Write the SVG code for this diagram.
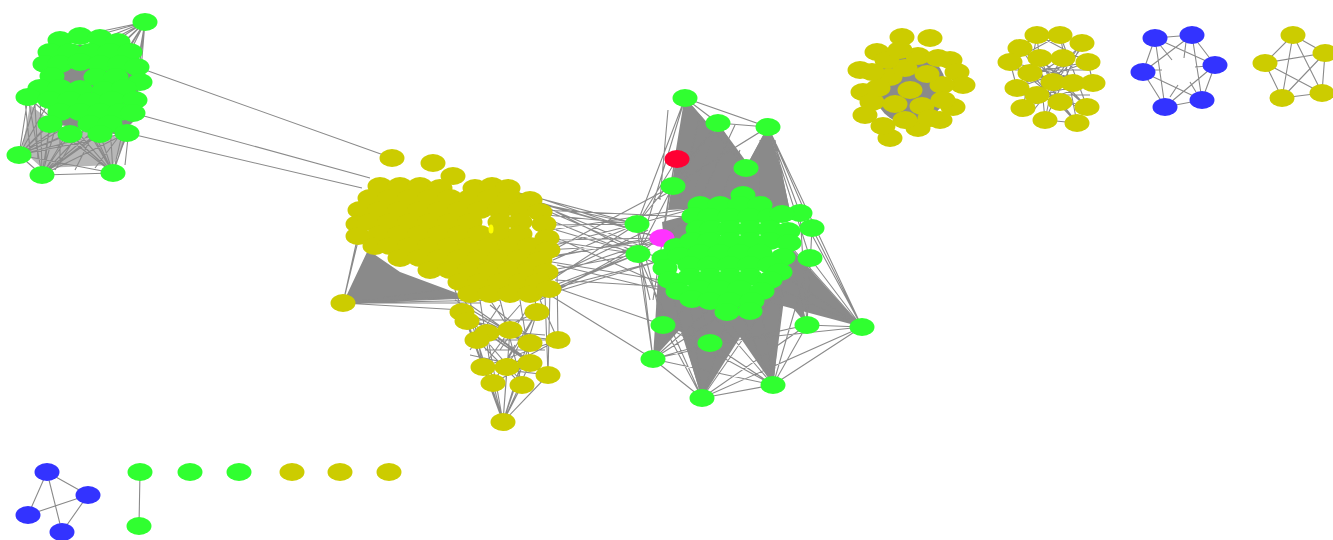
<svg xmlns="http://www.w3.org/2000/svg" width="1333" height="540" viewBox="0 0 1333 540">
<style>
.e{stroke:#8a8a8a;stroke-width:1.1;fill:none}
.m{fill:#8a8a8a}
.ml{fill:#999;opacity:.7}
.gr{fill:#30ff30}
.yl{fill:#cccc00}
.bl{fill:#3333ff}
.rd{fill:#ff0033}
.mg{fill:#ff33ff}
</style>
<defs>
<ellipse id="n" rx="12.5" ry="9"/>
</defs>
<rect width="1333" height="540" fill="#fff"/>

<!-- connectors -->
<g id="edges">
<!-- left green community -->
<polygon class="ml" points="30,105 60,128 127,138 113,165 42,168 22,150"/>
<polygon class="m" points="50,45 135,45 140,115 120,135 60,125 38,95"/>
<path class="e" d="M19 155L28 97M19 155L40 88M19 155L50 124M19 155L70 134M19 155L100 134M19 155L127 133M19 155L42 175M19 155L113 173M19 155L60 112M19 155L80 112M19 155L110 100M19 155L90 124M19 155L50 100
M42 175L50 124M42 175L70 134M42 175L100 134M42 175L127 133M42 175L113 173M42 175L28 97M42 175L60 112M42 175L90 124M42 175L110 124M42 175L80 112M42 175L130 100M42 175L40 88
M113 173L50 124M113 173L70 134M113 173L100 134M113 173L127 133M113 173L133 113M113 173L28 97M113 173L60 112M113 173L90 124M113 173L110 124M113 173L130 100M113 173L80 112M113 173L40 88M113 173L50 100M113 173L70 100
M145 22L60 40M145 22L80 40M145 22L100 40M145 22L137 67M145 22L140 82M145 22L120 64M145 22L130 52M145 22L110 76M145 22L90 76M145 22L80 64M145 22L90 52M145 22L135 100M145 22L133 113M145 22L70 52M145 22L100 64
M28 97L19 155M25 100L30 150M35 105L38 160M50 120L45 165M60 120L60 165M80 130L55 170M95 130L75 170M120 135L95 168M130 120L125 165M28 97L127 133M40 82L133 113"/>
<path class="e" d="M137 67L392 158M133 113L370 178M127 133L362 188"/>

<!-- central yellow community -->
<polygon class="m" points="343,303 368,250 400,272 470,298"/>
<path class="e" d="M343 303L358 235M343 303L368 200M343 303L462 310M343 303L500 300M343 303L520 296M343 303L545 292M343 303L480 303M343 303L440 290
M503 422L483 367M503 422L493 383M503 422L507 367M503 422L522 385M503 422L530 363M503 422L548 375M503 422L477 340M503 422L487 333M503 422L510 330M503 422L530 343M503 422L462 310M503 422L467 320M503 422L537 312
M462 310L548 375M467 320L530 363M477 340L522 385M487 333L548 375M510 330L483 367M537 312L493 383M558 340L483 367M558 340L477 340M530 343L467 320M507 367L537 312M462 310L530 343M487 333L558 340M477 340L537 312M467 320L510 330M483 367L548 375M493 383L530 363M507 367L558 340M522 385L477 340M530 363L462 310M548 375L462 310
M550 290L548 375M557 273L558 340M545 295L548 375M540 300L558 340M470 300L483 367M480 300L493 383M500 300L522 385M520 300L530 363M455 290L462 310M465 300L477 340M490 300L510 330M535 300L537 312
M455 300L505 330M470 305L520 340M490 305L540 345M500 305L470 350M520 305L485 345M530 305L500 350M470 320L540 320M480 330L545 335M485 350L545 350M470 355L540 370M490 345L520 380M515 345L495 380"/>
<!-- bridge between the two large communities -->
<path class="e" d="M537 203L637 224M547 215L637 224M550 240L662 238M547 240L638 254M553 260L637 224M557 273L662 238M550 290L638 254M547 290L663 260M540 210L690 217M545 250L673 243M550 230L700 207M500 188L637 224M490 188L662 238M527 197L638 254M557 265L690 297M555 280L670 287M545 295L663 260M545 205L662 238M550 225L637 224M555 245L637 224M558 255L662 238M552 270L638 254M548 282L637 224M540 298L662 238M545 200L673 243M550 235L690 297M553 250L673 186M548 285L663 325M545 292L653 359M556 230L638 254M550 212L663 260M540 300L690 217M520 298L638 254M552 262L660 280M540 205L650 250M555 275L648 230M550 220L660 265M548 258L640 240"/>

<!-- right green community -->
<polygon class="m" points="685,98 668,210 765,205 722,140"/>
<polygon class="m" points="718,123 688,208 775,208 745,160"/>
<polygon class="m" points="768,127 725,205 792,220 780,165"/>
<polygon class="m" points="653,359 658,275 705,302"/>
<polygon class="m" points="702,398 668,290 760,305"/>
<polygon class="m" points="773,385 718,305 788,268"/>
<polygon class="m" points="862,327 782,238 795,290 768,302"/>
<polygon class="m" points="663,325 660,280 700,300 710,343"/>
<polygon class="m" points="807,325 770,280 790,250"/>
<polygon class="m" points="662,222 700,212 690,250 665,250"/>
<path class="e" d="M685 98L718 123M685 98L768 127M718 123L768 127M685 98L637 224M685 98L638 254M685 98L673 186M685 98L677 159M685 98L662 238M685 98L653 300M718 123L637 224M718 123L673 186M768 127L812 228M768 127L800 213M768 127L862 327M768 127L810 258M768 127L746 168M718 123L746 168M768 127L673 186M685 98L746 168
M677 159L637 224M673 186L638 254M637 224L653 359M638 254L653 359M637 224L663 325M638 254L702 398M800 213L862 327M812 228L862 327M810 258L862 327M800 213L807 325M812 228L807 325M810 258L773 385
M653 359L702 398M702 398L773 385M773 385L862 327M653 359L773 385M702 398L862 327M663 325L773 385M663 325L702 398M710 343L773 385M710 343L862 327M653 359L710 343M807 325L773 385M807 325L702 398M663 325L653 359M807 325L862 327M653 359L807 325
M653 359L720 300M653 359L745 300M702 398L690 300M702 398L730 310M702 398L770 300M773 385L700 300M773 385L760 300M773 385L740 310M862 327L760 260M862 327L770 285M862 327L785 240M653 359L690 297M702 398L670 287M773 385L785 260M637 224L700 207M638 254L690 217
M668 110L660 200M700 115L680 200M735 125L700 200M760 140L760 200M775 140L790 215M740 150L720 200M655 200L690 180M650 300L640 260"/>

<!-- upper-right communities -->
<ellipse class="m" cx="910" cy="88" rx="36" ry="36"/>
<path class="e" d="M1037 35L1045 120M1060 35L1077 123M1020 48L1087 107M1082 43L1023 108M1010 62L1093 83M1088 62L1017 88M1030 73L1073 83M1040 58L1060 102M1063 58L1037 95M1017 88L1087 107M1023 108L1093 83M1037 35L1088 62M1060 35L1010 62M1020 48L1077 123M1082 43L1045 120M1030 73L1077 123M1053 82L1045 120M1053 82L1082 43M1073 83L1020 48M1037 95L1093 83M1060 102L1010 62M1040 58L1087 107M1063 58L1017 88M1030 73L1088 62M1037 35L1023 108M1060 35L1087 107M1045 120L1077 123M1017 88L1037 95M1060 102L1087 107M1010 62L1017 88M1088 62L1093 83M1020 48L1037 35M1060 35L1082 43M1015 70L1090 70M1015 95L1090 95M1025 50L1070 115M1080 50L1030 115"/>
<path class="e" d="M1155 38L1192 35M1192 35L1215 65M1215 65L1202 100M1202 100L1165 107M1165 107L1143 72M1143 72L1155 38M1155 38L1215 65M1143 72L1192 35M1155 38L1165 107M1192 35L1202 100M1143 72L1202 100M1165 107L1215 65M1160 45L1172 60M1186 42L1184 58M1150 70L1162 70M1208 66L1195 67M1170 97L1178 85M1196 92L1190 82"/>
<path class="e" d="M1293 35L1325 53M1325 53L1322 93M1322 93L1282 98M1282 98L1265 63M1265 63L1293 35M1293 35L1322 93M1293 35L1282 98M1265 63L1325 53M1265 63L1322 93M1282 98L1325 53"/>

<!-- small components -->
<path class="e" d="M47 472L88 495M47 472L28 515M47 472L62 532M88 495L28 515M88 495L62 532M140 472L139 526"/>
</g>

<!-- nodes -->
<g id="community-a" class="gr">
<g id="a01"><use href="#n" x="145" y="22"/></g>
<g id="a02"><use href="#n" x="19" y="155"/></g>
<g id="a03"><use href="#n" x="42" y="175"/></g>
<g id="a04"><use href="#n" x="113" y="173"/></g>
<g id="a05"><use href="#n" x="60" y="40"/></g>
<g id="a06"><use href="#n" x="80" y="36"/></g>
<g id="a07"><use href="#n" x="100" y="38"/></g>
<g id="a08"><use href="#n" x="118" y="42"/></g>
<g id="a09"><use href="#n" x="50" y="52"/></g>
<g id="a10"><use href="#n" x="70" y="52"/></g>
<g id="a11"><use href="#n" x="90" y="52"/></g>
<g id="a12"><use href="#n" x="110" y="52"/></g>
<g id="a13"><use href="#n" x="130" y="52"/></g>
<g id="a14"><use href="#n" x="45" y="64"/></g>
<g id="a15"><use href="#n" x="60" y="64"/></g>
<g id="a16"><use href="#n" x="80" y="62"/></g>
<g id="a17"><use href="#n" x="100" y="64"/></g>
<g id="a18"><use href="#n" x="120" y="64"/></g>
<g id="a19"><use href="#n" x="137" y="67"/></g>
<g id="a20"><use href="#n" x="52" y="76"/></g>
<g id="a21"><use href="#n" x="96" y="77"/></g>
<g id="a22"><use href="#n" x="116" y="77"/></g>
<g id="a23"><use href="#n" x="140" y="82"/></g>
<g id="a24"><use href="#n" x="40" y="88"/></g>
<g id="a25"><use href="#n" x="60" y="88"/></g>
<g id="a26"><use href="#n" x="80" y="89"/></g>
<g id="a27"><use href="#n" x="104" y="90"/></g>
<g id="a28"><use href="#n" x="124" y="88"/></g>
<g id="a29"><use href="#n" x="28" y="97"/></g>
<g id="a30"><use href="#n" x="50" y="100"/></g>
<g id="a31"><use href="#n" x="70" y="100"/></g>
<g id="a32"><use href="#n" x="90" y="101"/></g>
<g id="a33"><use href="#n" x="112" y="100"/></g>
<g id="a34"><use href="#n" x="135" y="100"/></g>
<g id="a35"><use href="#n" x="60" y="112"/></g>
<g id="a36"><use href="#n" x="80" y="112"/></g>
<g id="a37"><use href="#n" x="100" y="112"/></g>
<g id="a38"><use href="#n" x="120" y="112"/></g>
<g id="a39"><use href="#n" x="133" y="113"/></g>
<g id="a40"><use href="#n" x="50" y="124"/></g>
<g id="a41"><use href="#n" x="90" y="124"/></g>
<g id="a42"><use href="#n" x="110" y="124"/></g>
<g id="a43"><use href="#n" x="70" y="134"/></g>
<g id="a44"><use href="#n" x="100" y="134"/></g>
<g id="a45"><use href="#n" x="127" y="133"/></g>
</g>

<g id="community-b" class="yl">
<g id="b01"><use href="#n" x="392" y="158"/></g>
<g id="b02"><use href="#n" x="433" y="163"/></g>
<g id="b03"><use href="#n" x="453" y="176"/></g>
<g id="b04"><use href="#n" x="343" y="303"/></g>
<g id="b05"><use href="#n" x="380" y="186"/></g>
<g id="b06"><use href="#n" x="400" y="186"/></g>
<g id="b07"><use href="#n" x="420" y="186"/></g>
<g id="b08"><use href="#n" x="440" y="188"/></g>
<g id="b09"><use href="#n" x="475" y="188"/></g>
<g id="b10"><use href="#n" x="492" y="186"/></g>
<g id="b11"><use href="#n" x="508" y="188"/></g>
<g id="b12"><use href="#n" x="370" y="198"/></g>
<g id="b13"><use href="#n" x="390" y="198"/></g>
<g id="b14"><use href="#n" x="410" y="198"/></g>
<g id="b15"><use href="#n" x="430" y="198"/></g>
<g id="b16"><use href="#n" x="450" y="198"/></g>
<g id="b17"><use href="#n" x="470" y="198"/></g>
<g id="b18"><use href="#n" x="490" y="198"/></g>
<g id="b19"><use href="#n" x="510" y="198"/></g>
<g id="b20"><use href="#n" x="530" y="200"/></g>
<g id="b21"><use href="#n" x="360" y="210"/></g>
<g id="b22"><use href="#n" x="380" y="210"/></g>
<g id="b23"><use href="#n" x="400" y="210"/></g>
<g id="b24"><use href="#n" x="420" y="210"/></g>
<g id="b25"><use href="#n" x="440" y="210"/></g>
<g id="b26"><use href="#n" x="460" y="210"/></g>
<g id="b27"><use href="#n" x="480" y="210"/></g>
<g id="b28"><use href="#n" x="500" y="210"/></g>
<g id="b29"><use href="#n" x="520" y="210"/></g>
<g id="b30"><use href="#n" x="540" y="212"/></g>
<g id="b31"><use href="#n" x="358" y="224"/></g>
<g id="b32"><use href="#n" x="370" y="222"/></g>
<g id="b33"><use href="#n" x="390" y="222"/></g>
<g id="b34"><use href="#n" x="410" y="222"/></g>
<g id="b35"><use href="#n" x="430" y="222"/></g>
<g id="b36"><use href="#n" x="450" y="222"/></g>
<g id="b37"><use href="#n" x="470" y="222"/></g>
<g id="b38"><use href="#n" x="500" y="222"/></g>
<g id="b39"><use href="#n" x="520" y="222"/></g>
<g id="b40"><use href="#n" x="544" y="224"/></g>
<g id="b41"><use href="#n" x="358" y="236"/></g>
<g id="b42"><use href="#n" x="380" y="234"/></g>
<g id="b43"><use href="#n" x="400" y="234"/></g>
<g id="b44"><use href="#n" x="420" y="234"/></g>
<g id="b45"><use href="#n" x="440" y="234"/></g>
<g id="b46"><use href="#n" x="460" y="234"/></g>
<g id="b47"><use href="#n" x="480" y="234"/></g>
<g id="b48"><use href="#n" x="500" y="234"/></g>
<g id="b49"><use href="#n" x="520" y="234"/></g>
<g id="b50"><use href="#n" x="547" y="238"/></g>
<g id="b51"><use href="#n" x="375" y="246"/></g>
<g id="b52"><use href="#n" x="390" y="246"/></g>
<g id="b53"><use href="#n" x="410" y="246"/></g>
<g id="b54"><use href="#n" x="430" y="246"/></g>
<g id="b55"><use href="#n" x="450" y="246"/></g>
<g id="b56"><use href="#n" x="470" y="246"/></g>
<g id="b57"><use href="#n" x="490" y="246"/></g>
<g id="b58"><use href="#n" x="510" y="246"/></g>
<g id="b59"><use href="#n" x="530" y="246"/></g>
<g id="b60"><use href="#n" x="548" y="250"/></g>
<g id="b61"><use href="#n" x="400" y="258"/></g>
<g id="b62"><use href="#n" x="420" y="258"/></g>
<g id="b63"><use href="#n" x="440" y="258"/></g>
<g id="b64"><use href="#n" x="460" y="258"/></g>
<g id="b65"><use href="#n" x="480" y="258"/></g>
<g id="b66"><use href="#n" x="500" y="258"/></g>
<g id="b67"><use href="#n" x="520" y="258"/></g>
<g id="b68"><use href="#n" x="540" y="260"/></g>
<g id="b69"><use href="#n" x="430" y="270"/></g>
<g id="b70"><use href="#n" x="450" y="270"/></g>
<g id="b71"><use href="#n" x="470" y="270"/></g>
<g id="b72"><use href="#n" x="490" y="270"/></g>
<g id="b73"><use href="#n" x="510" y="270"/></g>
<g id="b74"><use href="#n" x="530" y="270"/></g>
<g id="b75"><use href="#n" x="546" y="272"/></g>
<g id="b76"><use href="#n" x="460" y="282"/></g>
<g id="b77"><use href="#n" x="480" y="282"/></g>
<g id="b78"><use href="#n" x="500" y="282"/></g>
<g id="b79"><use href="#n" x="520" y="282"/></g>
<g id="b80"><use href="#n" x="538" y="282"/></g>
<g id="b81"><use href="#n" x="470" y="294"/></g>
<g id="b82"><use href="#n" x="490" y="294"/></g>
<g id="b83"><use href="#n" x="510" y="294"/></g>
<g id="b84"><use href="#n" x="530" y="294"/></g>
<g id="b85"><use href="#n" x="549" y="289"/></g>
<g id="b86"><use href="#n" x="462" y="312"/></g>
<g id="b87"><use href="#n" x="467" y="321"/></g>
<g id="b88"><use href="#n" x="487" y="333"/></g>
<g id="b89"><use href="#n" x="477" y="340"/></g>
<g id="b90"><use href="#n" x="510" y="330"/></g>
<g id="b91"><use href="#n" x="537" y="312"/></g>
<g id="b92"><use href="#n" x="558" y="340"/></g>
<g id="b93"><use href="#n" x="530" y="343"/></g>
<g id="b94"><use href="#n" x="483" y="367"/></g>
<g id="b95"><use href="#n" x="507" y="367"/></g>
<g id="b96"><use href="#n" x="530" y="363"/></g>
<g id="b97"><use href="#n" x="548" y="375"/></g>
<g id="b98"><use href="#n" x="493" y="383"/></g>
<g id="b99"><use href="#n" x="522" y="385"/></g>
<g id="b100"><use href="#n" x="503" y="422"/></g>
<g id="b101"><ellipse cx="491" cy="229" rx="2.5" ry="4.5" fill="#ffff00"/></g>
</g>

<g id="community-c" class="gr">
<g id="c01"><use href="#n" x="685" y="98"/></g>
<g id="c02"><use href="#n" x="718" y="123"/></g>
<g id="c03"><use href="#n" x="768" y="127"/></g>
<g id="c04"><use href="#n" x="677" y="159" class="rd"/></g>
<g id="c05"><use href="#n" x="746" y="168"/></g>
<g id="c06"><use href="#n" x="673" y="186"/></g>
<g id="c07"><use href="#n" x="637" y="224"/></g>
<g id="c08"><use href="#n" x="638" y="254"/></g>
<g id="c09"><use href="#n" x="662" y="238" class="mg"/></g>
<g id="c10"><use href="#n" x="800" y="213"/></g>
<g id="c11"><use href="#n" x="812" y="228"/></g>
<g id="c12"><use href="#n" x="810" y="258"/></g>
<g id="c13"><use href="#n" x="663" y="325"/></g>
<g id="c14"><use href="#n" x="807" y="325"/></g>
<g id="c15"><use href="#n" x="862" y="327"/></g>
<g id="c16"><use href="#n" x="710" y="343"/></g>
<g id="c17"><use href="#n" x="653" y="359"/></g>
<g id="c18"><use href="#n" x="702" y="398"/></g>
<g id="c19"><use href="#n" x="773" y="385"/></g>
<g id="c20"><use href="#n" x="743" y="195"/></g>
<g id="c21"><use href="#n" x="700" y="205"/></g>
<g id="c22"><use href="#n" x="720" y="205"/></g>
<g id="c23"><use href="#n" x="740" y="205"/></g>
<g id="c24"><use href="#n" x="760" y="205"/></g>
<g id="c25"><use href="#n" x="694" y="216"/></g>
<g id="c26"><use href="#n" x="710" y="217"/></g>
<g id="c27"><use href="#n" x="730" y="217"/></g>
<g id="c28"><use href="#n" x="750" y="217"/></g>
<g id="c29"><use href="#n" x="770" y="217"/></g>
<g id="c30"><use href="#n" x="782" y="214"/></g>
<g id="c31"><use href="#n" x="698" y="229"/></g>
<g id="c32"><use href="#n" x="712" y="229"/></g>
<g id="c33"><use href="#n" x="730" y="229"/></g>
<g id="c34"><use href="#n" x="750" y="229"/></g>
<g id="c35"><use href="#n" x="770" y="229"/></g>
<g id="c36"><use href="#n" x="788" y="231"/></g>
<g id="c37"><use href="#n" x="676" y="247"/></g>
<g id="c38"><use href="#n" x="692" y="241"/></g>
<g id="c39"><use href="#n" x="710" y="241"/></g>
<g id="c40"><use href="#n" x="730" y="241"/></g>
<g id="c41"><use href="#n" x="750" y="241"/></g>
<g id="c42"><use href="#n" x="770" y="241"/></g>
<g id="c43"><use href="#n" x="789" y="243"/></g>
<g id="c44"><use href="#n" x="664" y="258"/></g>
<g id="c45"><use href="#n" x="680" y="256"/></g>
<g id="c46"><use href="#n" x="700" y="253"/></g>
<g id="c47"><use href="#n" x="720" y="253"/></g>
<g id="c48"><use href="#n" x="740" y="253"/></g>
<g id="c49"><use href="#n" x="760" y="253"/></g>
<g id="c50"><use href="#n" x="783" y="257"/></g>
<g id="c51"><use href="#n" x="665" y="268"/></g>
<g id="c52"><use href="#n" x="690" y="265"/></g>
<g id="c53"><use href="#n" x="710" y="265"/></g>
<g id="c54"><use href="#n" x="730" y="265"/></g>
<g id="c55"><use href="#n" x="750" y="265"/></g>
<g id="c56"><use href="#n" x="770" y="265"/></g>
<g id="c57"><use href="#n" x="780" y="272"/></g>
<g id="c58"><use href="#n" x="670" y="280"/></g>
<g id="c59"><use href="#n" x="690" y="277"/></g>
<g id="c60"><use href="#n" x="710" y="277"/></g>
<g id="c61"><use href="#n" x="730" y="277"/></g>
<g id="c62"><use href="#n" x="750" y="277"/></g>
<g id="c63"><use href="#n" x="770" y="280"/></g>
<g id="c64"><use href="#n" x="678" y="291"/></g>
<g id="c65"><use href="#n" x="700" y="289"/></g>
<g id="c66"><use href="#n" x="720" y="289"/></g>
<g id="c67"><use href="#n" x="740" y="289"/></g>
<g id="c68"><use href="#n" x="762" y="291"/></g>
<g id="c69"><use href="#n" x="692" y="299"/></g>
<g id="c70"><use href="#n" x="710" y="301"/></g>
<g id="c71"><use href="#n" x="730" y="301"/></g>
<g id="c72"><use href="#n" x="752" y="301"/></g>
<g id="c73"><use href="#n" x="727" y="312"/></g>
<g id="c74"><use href="#n" x="750" y="311"/></g>
</g>

<g id="community-d" class="yl">
<g id="d01"><use href="#n" x="902" y="37"/></g>
<g id="d02"><use href="#n" x="930" y="38"/></g>
<g id="d03"><use href="#n" x="877" y="52"/></g>
<g id="d04"><use href="#n" x="860" y="70"/></g>
<g id="d05"><use href="#n" x="950" y="60"/></g>
<g id="d06"><use href="#n" x="957" y="72"/></g>
<g id="d07"><use href="#n" x="963" y="85"/></g>
<g id="d08"><use href="#n" x="953" y="107"/></g>
<g id="d09"><use href="#n" x="940" y="120"/></g>
<g id="d10"><use href="#n" x="918" y="128"/></g>
<g id="d11"><use href="#n" x="890" y="138"/></g>
<g id="d12"><use href="#n" x="883" y="126"/></g>
<g id="d13"><use href="#n" x="865" y="115"/></g>
<g id="d14"><use href="#n" x="863" y="92"/></g>
<g id="d15"><use href="#n" x="872" y="102"/></g>
<g id="d16"><use href="#n" x="890" y="77"/></g>
<g id="d17"><use href="#n" x="905" y="68"/></g>
<g id="d18"><use href="#n" x="918" y="56"/></g>
<g id="d19"><use href="#n" x="942" y="85"/></g>
<g id="d20"><use href="#n" x="910" y="90"/></g>
<g id="d21"><use href="#n" x="895" y="104"/></g>
<g id="d22"><use href="#n" x="922" y="106"/></g>
<g id="d23"><use href="#n" x="878" y="88"/></g>
<g id="d24"><use href="#n" x="943" y="100"/></g>
<g id="d25"><use href="#n" x="905" y="120"/></g>
<g id="d26"><use href="#n" x="887" y="60"/></g>
<g id="d27"><use href="#n" x="927" y="74"/></g>
<g id="d28"><use href="#n" x="938" y="58"/></g>
<g id="d29"><use href="#n" x="900" y="50"/></g>
<g id="d30"><use href="#n" x="872" y="72"/></g>
<g id="d31"><use href="#n" x="930" y="118"/></g>
</g>

<g id="community-e" class="yl">
<g id="e01"><use href="#n" x="1037" y="35"/></g>
<g id="e02"><use href="#n" x="1060" y="35"/></g>
<g id="e03"><use href="#n" x="1082" y="43"/></g>
<g id="e04"><use href="#n" x="1020" y="48"/></g>
<g id="e05"><use href="#n" x="1010" y="62"/></g>
<g id="e06"><use href="#n" x="1088" y="62"/></g>
<g id="e07"><use href="#n" x="1040" y="58"/></g>
<g id="e08"><use href="#n" x="1063" y="58"/></g>
<g id="e09"><use href="#n" x="1030" y="73"/></g>
<g id="e10"><use href="#n" x="1017" y="88"/></g>
<g id="e11"><use href="#n" x="1093" y="83"/></g>
<g id="e12"><use href="#n" x="1053" y="82"/></g>
<g id="e13"><use href="#n" x="1073" y="83"/></g>
<g id="e14"><use href="#n" x="1037" y="95"/></g>
<g id="e15"><use href="#n" x="1060" y="102"/></g>
<g id="e16"><use href="#n" x="1023" y="108"/></g>
<g id="e17"><use href="#n" x="1087" y="107"/></g>
<g id="e18"><use href="#n" x="1045" y="120"/></g>
<g id="e19"><use href="#n" x="1077" y="123"/></g>
</g>

<g id="community-f" class="bl">
<g id="f01"><use href="#n" x="1155" y="38"/></g>
<g id="f02"><use href="#n" x="1192" y="35"/></g>
<g id="f03"><use href="#n" x="1215" y="65"/></g>
<g id="f04"><use href="#n" x="1143" y="72"/></g>
<g id="f05"><use href="#n" x="1202" y="100"/></g>
<g id="f06"><use href="#n" x="1165" y="107"/></g>
</g>

<g id="community-g" class="yl">
<g id="g01"><use href="#n" x="1293" y="35"/></g>
<g id="g02"><use href="#n" x="1325" y="53"/></g>
<g id="g03"><use href="#n" x="1265" y="63"/></g>
<g id="g04"><use href="#n" x="1322" y="93"/></g>
<g id="g05"><use href="#n" x="1282" y="98"/></g>
</g>

<g id="community-h" class="bl">
<g id="h01"><use href="#n" x="47" y="472"/></g>
<g id="h02"><use href="#n" x="88" y="495"/></g>
<g id="h03"><use href="#n" x="28" y="515"/></g>
<g id="h04"><use href="#n" x="62" y="532"/></g>
</g>

<g id="small-components">
<g id="s01" class="gr"><use href="#n" x="140" y="472"/></g>
<g id="s02" class="gr"><use href="#n" x="139" y="526"/></g>
<g id="s03" class="gr"><use href="#n" x="190" y="472"/></g>
<g id="s04" class="gr"><use href="#n" x="239" y="472"/></g>
<g id="s05" class="yl"><use href="#n" x="292" y="472"/></g>
<g id="s06" class="yl"><use href="#n" x="340" y="472"/></g>
<g id="s07" class="yl"><use href="#n" x="389" y="472"/></g>
</g>
</svg>
